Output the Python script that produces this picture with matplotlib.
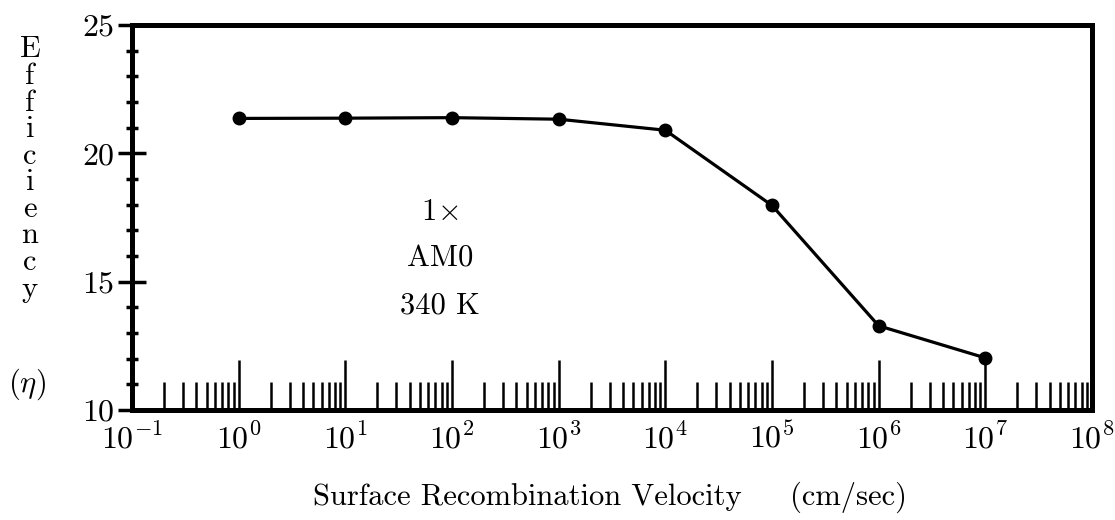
import matplotlib
matplotlib.use('Agg')
import matplotlib.pyplot as plt
from matplotlib.ticker import LogLocator, MultipleLocator, NullFormatter

# data
velocity = [1e0, 1e1, 1e2, 1e3, 1e4, 1e5, 1e6, 1e7]
efficiency = [21.36, 21.37, 21.39, 21.33, 20.90, 17.97, 13.28, 12.03]
x_exponents = [-1, 0, 1, 2, 3, 4, 5, 6, 7, 8]
y_ticks = [10, 15, 20, 25]
y_letters = ['E', 'f', 'f', 'i', 'c', 'i', 'e', 'n', 'c', 'y']
notes = [r'$1\!\times$', 'AM0', '340 K']

plt.rcParams['font.family'] = ['cmr10', 'DejaVu Serif']
plt.rcParams['mathtext.fontset'] = 'cm'
plt.rcParams['axes.formatter.use_mathtext'] = True

W, H = 1115, 520
FS = 22
fig = plt.figure(figsize=(W / 100, H / 100), dpi=100)
ax = fig.add_axes([132 / W, 1 - 410 / H, (1092 - 132) / W, (410 - 25) / H])

ax.plot(velocity, efficiency, color='black', lw=2.3, marker='o', ms=9,
        solid_joinstyle='round')

ax.set_xscale('log')
ax.set_xlim(1e-1, 1e8)
ax.set_ylim(10, 25)

ax.set_xticks([10.0 ** e for e in x_exponents],
              [r'$10^{%d}$' % e for e in x_exponents])
ax.xaxis.set_minor_locator(LogLocator(base=10, subs=range(2, 10), numticks=50))
ax.xaxis.set_minor_formatter(NullFormatter())
ax.set_yticks(y_ticks, [str(v) for v in y_ticks])
ax.yaxis.set_minor_locator(MultipleLocator(1))

for s in ax.spines.values():
    s.set_linewidth(3.6)

ax.tick_params(axis='x', which='major', direction='in', length=36, width=1.8,
               labelsize=23, pad=9, top=False)
ax.tick_params(axis='x', which='minor', direction='in', length=20, width=1.8,
               top=False)
ax.tick_params(axis='y', which='major', direction='inout', length=20, width=2.5,
               labelsize=23, pad=3, right=False)
ax.tick_params(axis='y', which='minor', direction='inout', length=8, width=2.5,
               right=False)

# stacked y label
fig.text(30 / W, 1 - 36 / H, '\n'.join(y_letters), ha='center', va='top',
         fontsize=FS, linespacing=0.96, multialignment='center')
fig.text(27 / W, 1 - 384 / H, r'$(\eta)$', ha='center', va='center', fontsize=FS)

for i, t in enumerate(notes):
    fig.text(440 / W, 1 - (212 + 47 * i) / H, t, ha='center', va='center',
             fontsize=FS)

fig.text(313 / W, 1 - 497 / H, 'Surface Recombination Velocity',
         ha='left', va='center', fontsize=FS)
fig.text(790 / W, 1 - 497 / H, '(cm/sec)', ha='left', va='center', fontsize=FS)

fig.savefig('out.png', dpi=100)
